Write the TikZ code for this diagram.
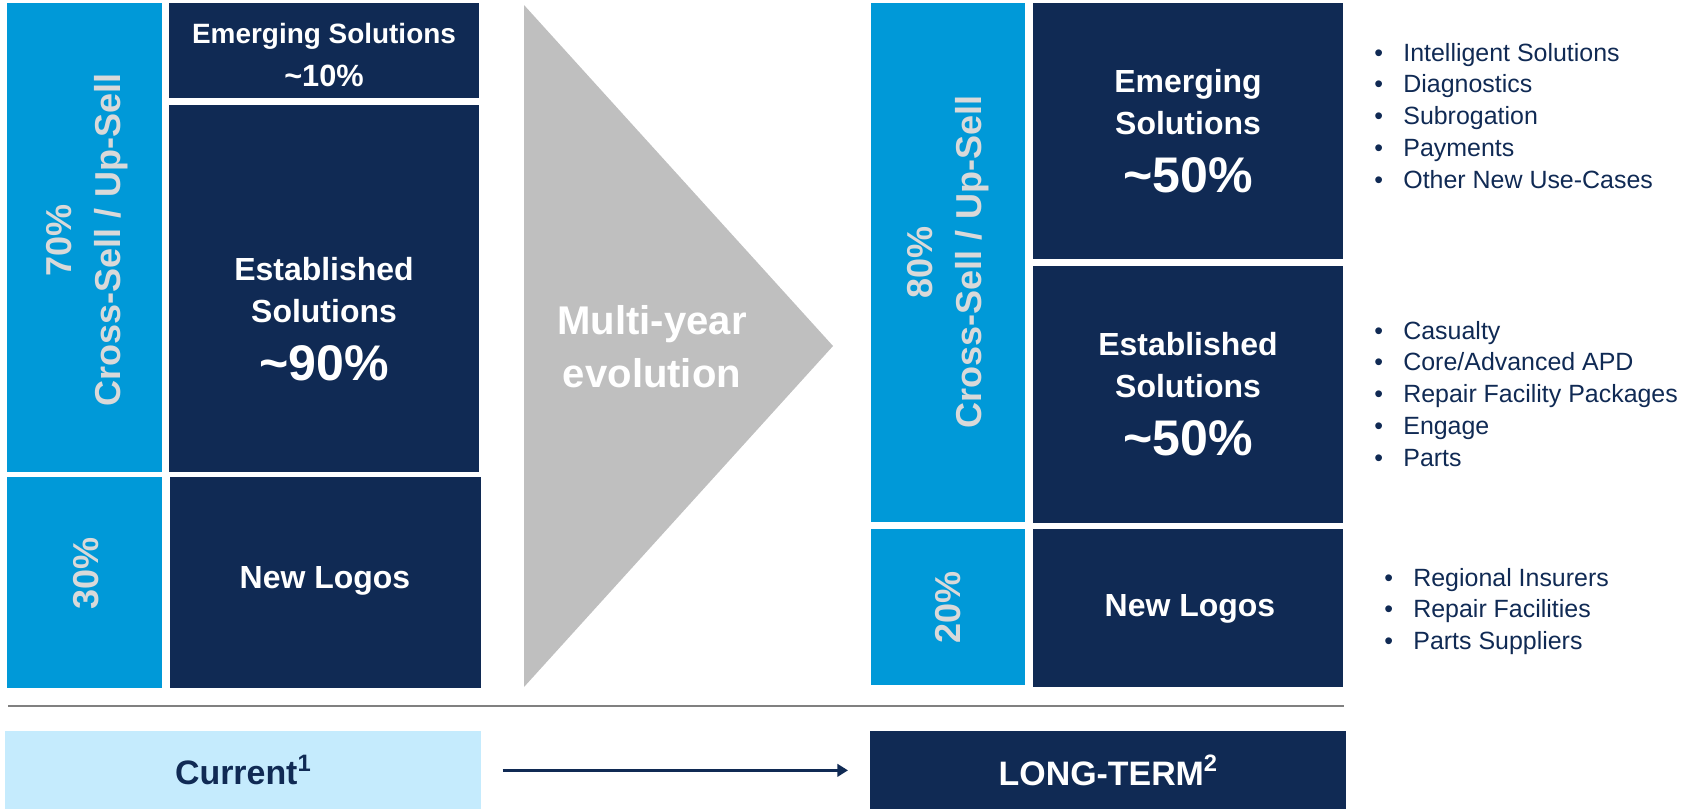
\documentclass[tikz,border=0pt]{standalone}
\usepackage{fontspec}
\setmainfont{Liberation Sans}
\usetikzlibrary{arrows.meta}
\definecolor{navyColor}{HTML}{102A54}
\definecolor{skyColor}{HTML}{0099D8}
\definecolor{paleColor}{HTML}{C5EBFD}
\definecolor{greyColor}{HTML}{BFBFBF}
\definecolor{labelGrey}{HTML}{D9D9D9}
\definecolor{ruleGrey}{HTML}{808080}

\tikzset{
  blk/.style 2 args={anchor=north west, inner sep=0pt,
    minimum width=#1*0.02cm, minimum height=#2*0.02cm},
  navyblk/.style 2 args={blk={#1}{#2}, fill=navyColor},
  skyblk/.style 2 args={blk={#1}{#2}, fill=skyColor},
  head/.style={text=white, align=center, font=\bfseries\fontsize{18.2}{24}\selectfont},
  rotlbl/.style={text=labelGrey, align=center, rotate=90,
    font=\bfseries\fontsize{20.5}{28}\selectfont},
  item/.style={anchor=west, text=navyColor, inner sep=0pt,
    text height=10pt, text depth=3pt, font=\fontsize{14.2}{17}\selectfont},
}
\newcommand{\bigpct}[1]{{\fontsize{28.5}{34}\selectfont\textasciitilde#1\%}}

\begin{document}
\begin{tikzpicture}[x=0.02cm, y=-0.02cm]
    \useasboundingbox (0,0) rectangle (1690,809);

    % current mix
    \node[skyblk={155}{469}] (skyL1) at (7,3) {};
    \node[navyblk={310}{95}] (emL) at (169,3) {};
    \node[navyblk={310}{367}] (esL) at (169,105) {};
    \node[skyblk={155}{211}] (skyL2) at (7,477) {};
    \node[navyblk={311}{211}] (nlL) at (170,477) {};

    \node[head, font=\bfseries\fontsize{15.9}{25}\selectfont] (emLt) at (324,55)
        {Emerging Solutions\\{\fontsize{17.5}{25}\selectfont\textasciitilde10\%}};
    \node[head] (esLt) at (324,319) {Established\\Solutions\\[9pt]\bigpct{90}};
    \node[head] (nlLt) at (325,581) {New Logos};
    \node[rotlbl] (csL) at (87,240) {70\%\\Cross-Sell / Up-Sell};
    \node[rotlbl] (pcL) at (86,573) {30\%};

    % evolution
    \fill[greyColor] (524,5) -- (524,687) -- (833,346) -- cycle;
    \node[text=white, align=center, font=\bfseries\fontsize{22.8}{30}\selectfont]
        (evo) at (652,347) {Multi-year\\evolution};

    % long-term mix
    \node[skyblk={154}{519}] (skyR1) at (871,3) {};
    \node[navyblk={310}{256}] (emR) at (1033,3) {};
    \node[navyblk={310}{257}] (esR) at (1033,266) {};
    \node[skyblk={154}{156}] (skyR2) at (871,529) {};
    \node[navyblk={310}{158}] (nlR) at (1033,529) {};

    \node[head] (emRt) at (1188,131) {Emerging\\Solutions\\[9pt]\bigpct{50}};
    \node[head] (esRt) at (1188,394) {Established\\Solutions\\[9pt]\bigpct{50}};
    \node[head] (nlRt) at (1190,609) {New Logos};
    \node[rotlbl] (csR) at (948,262) {80\%\\Cross-Sell / Up-Sell};
    \node[rotlbl] (pcR) at (948,607) {20\%};

    % bullet lists
    \foreach \t [count=\i] in {Intelligent Solutions, Diagnostics, Subrogation,
        Payments, Other New Use-Cases}
        \node[item] (emB\i) at (1374,{55+31.8*(\i-1)})
            {\makebox[0.58cm][l]{\textbullet}\t};
    \foreach \t [count=\i] in {Casualty, Core/Advanced APD,
        Repair Facility Packages, Engage, Parts}
        \node[item] (esB\i) at (1374,{333+31.8*(\i-1)})
            {\makebox[0.58cm][l]{\textbullet}\t};
    \foreach \t [count=\i] in {Regional Insurers, Repair Facilities, Parts Suppliers}
        \node[item] (nlB\i) at (1384,{580+31.5*(\i-1)})
            {\makebox[0.58cm][l]{\textbullet}\t};

    % timeline
    \draw[ruleGrey, line width=1.2pt] (8,706) -- (1344,706);
    \node[blk={476}{78}, fill=paleColor, text=navyColor,
        font=\bfseries\fontsize{19.3}{23}\selectfont] (cur) at (5,731)
        {Current\textsuperscript{1}};
    \node[navyblk={476}{78}, text=white,
        font=\bfseries\fontsize{19.3}{23}\selectfont] (lt) at (870,731)
        {LONG-TERM\textsuperscript{2}};
    \draw[navyColor, line width=1.6pt, -{Triangle[length=6pt, width=7pt]},
        shorten <=0.42cm, shorten >=0.44cm] (cur) -- (lt);
\end{tikzpicture}
\end{document}
